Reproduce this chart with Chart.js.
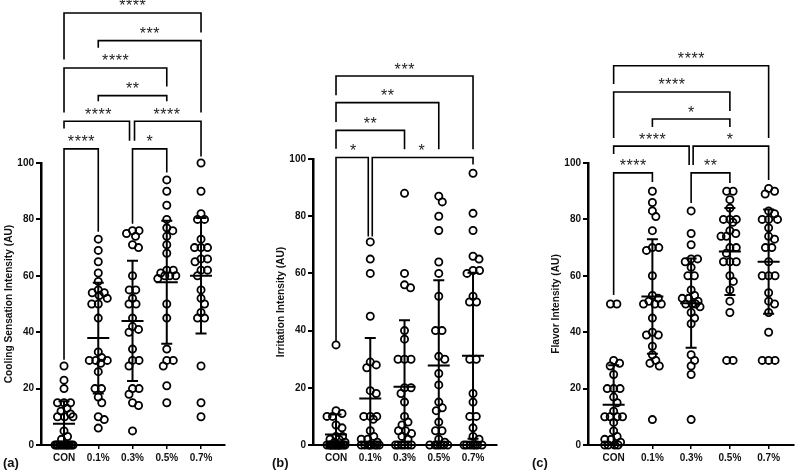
<!DOCTYPE html>
<html>
<head>
<meta charset="utf-8">
<script src="https://cdn.jsdelivr.net/npm/chart.js@4.4.0/dist/chart.umd.min.js"></script>
<style>
body { margin: 0; background: #fff; width: 800px; height: 473px; position: relative; overflow: hidden; }
canvas { position: absolute; top: 0; }
.tag { position: absolute; top: 455px; font: bold 13px "Liberation Sans", Arial, sans-serif; color: #111; }
</style>
</head>
<body>
<canvas id="chartA" width="240" height="473" style="left:0px"></canvas>
<canvas id="chartB" width="240" height="473" style="left:272px"></canvas>
<canvas id="chartC" width="253" height="473" style="left:547px"></canvas>
<div class="tag" style="left:3px">(a)</div>
<div class="tag" style="left:272px">(b)</div>
<div class="tag" style="left:532px">(c)</div>
<script>
const groups = ['CON', '0.1%', '0.3%', '0.5%', '0.7%'];

// (a) cooling sensation
const coolCON = [28, 23, 20, 15, 15, 15, 13, 12, 11, 10, 10, 10, 5, 3, 2, 0, 0, 0, 0, 0, 0, 0, 0, 0, 0, 0, 0];
const cool01 = [73, 69, 65, 61, 58, 55, 54, 54, 53, 52, 50, 50, 45, 33, 31, 30, 30, 30, 29, 26, 20, 20, 17, 15, 10, 9, 6];
const cool03 = [76, 76, 75, 74, 71, 70, 60, 55, 55, 52, 50, 50, 45, 42, 41, 40, 34, 30, 30, 28, 20, 20, 18, 15, 14, 5];
const cool05 = [94, 90, 85, 80, 77, 76, 74, 71, 68, 62, 62, 61, 60, 60, 60, 59, 50, 45, 34, 30, 30, 28, 21, 15];
const cool07 = [100, 90, 82, 80, 80, 73, 70, 70, 70, 66, 66, 65, 62, 62, 60, 55, 52, 50, 47, 45, 45, 28, 15, 10];
const coolMean = [7.5, 37.9, 44, 57.7, 60];
const coolSD = [8, 19.6, 21.3, 21.8, 20.5];

// (b) irritation
const irrCON = [35, 12, 11, 10, 10, 7, 6, 3, 3, 2, 2, 1, 1, 0, 0, 0, 0, 0, 0, 0, 0, 0, 0, 0, 0, 0, 0];
const irr01 = [71, 65, 60, 45, 29, 28, 27, 19, 18, 10, 10, 10, 9, 5, 3, 2, 2, 1, 0, 0, 0, 0, 0, 0, 0, 0];
const irr03 = [88, 60, 56, 55, 40, 37, 30, 30, 30, 20, 20, 18, 15, 10, 8, 7, 5, 5, 4, 3, 2, 0, 0, 0, 0, 0, 0];
const irr05 = [87, 85, 80, 75, 64, 60, 52, 40, 40, 31, 30, 25, 21, 15, 13, 12, 8, 5, 5, 2, 1, 0, 0, 0, 0, 0, 0];
const irr07 = [95, 81, 75, 66, 65, 61, 61, 60, 52, 50, 50, 30, 30, 18, 15, 10, 10, 6, 3, 2, 0, 0, 0, 0, 0, 0, 0];
const irrMean = [3.7, 16.3, 20.4, 27.8, 31.2];
const irrSD = [7, 21.1, 23.2, 29.8, 29];

// (c) flavor
const flavCON = [50, 50, 30, 29, 28, 25, 20, 20, 20, 17, 15, 12, 10, 10, 10, 10, 8, 5, 3, 2, 2, 1, 0, 0, 0, 0];
const flav01 = [90, 86, 83, 81, 76, 70, 70, 69, 60, 53, 52, 51, 50, 50, 50, 45, 40, 39, 39, 35, 32, 30, 29, 28, 9];
const flav03 = [83, 75, 71, 66, 66, 65, 63, 60, 60, 55, 53, 52, 52, 51, 50, 50, 50, 49, 47, 45, 43, 32, 30, 28, 25, 9];
const flav05 = [90, 90, 87, 84, 80, 80, 80, 79, 76, 75, 74, 74, 70, 70, 68, 65, 65, 65, 60, 58, 55, 51, 47, 30, 30];
const flav07 = [91, 90, 89, 83, 82, 80, 80, 80, 77, 74, 73, 70, 70, 65, 60, 60, 60, 54, 51, 50, 47, 40, 30, 30, 30];
const flavMean = [14.3, 52.7, 50.3, 68.6, 65];
const flavSD = [14, 20.3, 15.8, 15.4, 18.5];

// significance brackets: [from, to, line y, left leg end, right leg end, label, left shift px, right shift px]
const coolBrackets = [
    [0, 4, 153.2, 136.7, 146.3, '****'],
    [1, 4, 143.4, 140.9, 117.9, '***'],
    [0, 3, 133.7, 117.9, 127.1, '****'],
    [1, 3, 123.9, 121.9, 121.9, '**'],
    [0, 2, 114.8, 112.2, 107.9, '****', 0, -3],
    [2, 4, 114.8, 107.9, 102.3, '****', 2, 0],
    [0, 1, 105.0, 30.2, 75.6, '****'],
    [2, 3, 105.0, 78.5, 96.6, '*']
];
const irrBrackets = [
    [0, 4, 129.0, 122.3, 103.4, '***'],
    [0, 3, 119.7, 112.9, 103.4, '**'],
    [0, 2, 110.0, 103.6, 103.4, '**'],
    [0, 1, 100.5, 36.1, 72.9, '*', 0, -2],
    [1, 4, 100.5, 72.9, 98.1, '*', 2, 0]
];
const flavBrackets = [
    [0, 4, 134.5, 128.0, 108.9, '****'],
    [0, 3, 125.2, 108.9, 118.4, '****'],
    [1, 3, 115.6, 112.8, 112.8, '*'],
    [0, 2, 106.0, 103.2, 99.3, '****', 0, -2],
    [2, 4, 106.0, 99.3, 94.0, '*', 2, 0],
    [0, 1, 96.5, 53.2, 93.3, '****'],
    [2, 3, 96.5, 85.8, 92.9, '**']
];

const FONT = '"Liberation Sans", Arial, sans-serif';
const AXIS_W = 41, AXIS_BOTTOM = 445;

// simple beeswarm: spreads points sideways so circles don't pile up,
// equal values end up centred as a row
function swarm(values, ppuX, ppuY) {
    const d = 6.5, maxHalf = 9;
    const placed = [];
    const offs = new Array(values.length);
    const order = values.map((v, i) => i).sort((a, b) => values[b] - values[a]);
    order.forEach(i => {
        const py = values[i] * ppuY;
        let best = 0, bestScore = -1;
        for (let s = 0; s <= maxHalf; s += 0.5) {
            const cands = s === 0 ? [0] : [s, -s];
            let done = false;
            for (const c of cands) {
                let minD = Infinity;
                placed.forEach(p => {
                    const dd = Math.hypot(p.px - c, p.py - py);
                    if (dd < minD) minD = dd;
                });
                if (minD >= d) { best = c; done = true; break; }
                if (minD > bestScore) { bestScore = minD; best = c; }
            }
            if (done) break;
        }
        placed.push({ px: best, py: py, v: values[i], i: i });
    });
    // centre rows of ties that sit apart from other values
    const seen = {};
    placed.forEach(p => {
        if (seen[p.v]) return;
        seen[p.v] = true;
        const row = placed.filter(q => q.v === p.v);
        const near = placed.some(q => q.v !== p.v && Math.abs(q.py - p.py) < d);
        if (row.length > 1 && !near) {
            const mean = row.reduce((a, q) => a + q.px, 0) / row.length;
            row.forEach(q => { q.px -= mean; });
        }
    });
    placed.forEach(p => { offs[p.i] = p.px / ppuX; });
    return offs;
}

const errBars = {
    id: 'errbars',
    afterDatasetsDraw(chart, args, opts) {
        const ctx = chart.ctx, xs = chart.scales.x, ys = chart.scales.y;
        ctx.save();
        ctx.strokeStyle = '#000';
        ctx.lineWidth = 2;
        opts.means.forEach((m, i) => {
            const x = xs.getPixelForValue(i);
            const top = m + opts.sds[i];
            const bot = Math.max(0, m - opts.sds[i]);
            const yt = ys.getPixelForValue(top), yb = ys.getPixelForValue(bot), ym = ys.getPixelForValue(m);
            ctx.beginPath();
            ctx.moveTo(x, yt); ctx.lineTo(x, yb);
            ctx.moveTo(x - 5.5, yt); ctx.lineTo(x + 5.5, yt);
            if (m - opts.sds[i] > 0) { ctx.moveTo(x - 5.5, yb); ctx.lineTo(x + 5.5, yb); }
            ctx.moveTo(x - 11, ym); ctx.lineTo(x + 11, ym);
            ctx.stroke();
        });
        ctx.restore();
    }
};

const brackets = {
    id: 'brackets',
    afterDraw(chart, args, opts) {
        const ctx = chart.ctx, xs = chart.scales.x, ys = chart.scales.y;
        ctx.save();
        ctx.strokeStyle = '#000';
        ctx.lineWidth = 1.6;
        ctx.fillStyle = '#222';
        ctx.font = '16px ' + FONT;
        ctx.textAlign = 'center';
        ctx.textBaseline = 'alphabetic';
        opts.list.forEach(b => {
            const c1 = xs.getPixelForValue(b[0]), c2 = xs.getPixelForValue(b[1]);
            const x1 = c1 + (b[6] || 0), x2 = c2 + (b[7] || 0);
            const yl = ys.getPixelForValue(b[2]);
            ctx.beginPath();
            ctx.moveTo(x1, ys.getPixelForValue(b[3]));
            ctx.lineTo(x1, yl);
            ctx.lineTo(x2, yl);
            ctx.lineTo(x2, ys.getPixelForValue(b[4]));
            ctx.stroke();
            const n = b[5].length, step = 6.8, mid = (c1 + c2) / 2;
            for (let k = 0; k < n; k++) {
                ctx.fillText('*', mid + (k - (n - 1) / 2) * step, yl - 1.5);
            }
        });
        ctx.restore();
    }
};

function makePanel(id, series, means, sds, bracketList, title, xMin, xMax, top, canvasW, right) {
    const ppuY = (AXIS_BOTTOM - top) / 100;
    const ppuX = (canvasW - right - AXIS_W) / (xMax - xMin);
    const datasets = series.map((vals, i) => {
        const offs = swarm(vals, ppuX, ppuY);
        return {
            data: vals.map((v, k) => ({ x: i + offs[k], y: v })),
            pointRadius: 3.6,
            pointBorderWidth: 1.8,
            pointBackgroundColor: 'rgba(0,0,0,0)',
            pointBorderColor: '#000',
            clip: false
        };
    });
    return new Chart(document.getElementById(id), {
        type: 'scatter',
        data: { datasets: datasets },
        options: {
            responsive: false,
            animation: false,
            events: [],
            layout: { padding: { top: top, right: right, left: 0, bottom: 0 } },
            plugins: {
                legend: { display: false },
                tooltip: { enabled: false },
                errbars: { means: means, sds: sds },
                brackets: { list: bracketList }
            },
            scales: {
                x: {
                    type: 'linear',
                    min: xMin,
                    max: xMax,
                    afterFit: s => { s.height = 28; },
                    afterBuildTicks: s => { s.ticks = groups.map((g, i) => ({ value: i })); },
                    ticks: {
                        callback: v => groups[v],
                        autoSkip: false,
                        maxRotation: 0,
                        padding: 3,
                        color: '#111',
                        font: { family: FONT, size: 10, weight: 'bold' }
                    },
                    grid: { drawOnChartArea: false, tickLength: 4, lineWidth: 1.5, color: '#000' },
                    border: { width: 2, color: '#000' }
                },
                y: {
                    min: 0,
                    max: 100,
                    afterFit: s => { s.width = AXIS_W; },
                    ticks: {
                        stepSize: 20,
                        padding: 2,
                        color: '#111',
                        font: { family: FONT, size: 10, weight: 'bold' }
                    },
                    grid: { drawOnChartArea: false, tickLength: 5, lineWidth: 2, color: '#000' },
                    border: { width: 2.5, color: '#000' },
                    title: {
                        display: true,
                        text: title,
                        color: '#111',
                        padding: { top: 3, bottom: 3 },
                        font: { family: FONT, size: 10.2, weight: 'bold' }
                    }
                }
            }
        },
        plugins: [errBars, brackets]
    });
}

makePanel('chartA', [coolCON, cool01, cool03, cool05, cool07], coolMean, coolSD, coolBrackets,
    'Cooling Sensation Intensity (AU)', -0.672, 4.70, 163, 240, 15);
makePanel('chartB', [irrCON, irr01, irr03, irr05, irr07], irrMean, irrSD, irrBrackets,
    'Irritation Intensity (AU)', -0.672, 4.70, 159, 240, 15);
makePanel('chartC', [flavCON, flav01, flav03, flav05, flav07], flavMean, flavSD, flavBrackets,
    'Flavor Intensity (AU)', -0.662, 4.66, 163, 253, 3);
</script>
</body>
</html>
